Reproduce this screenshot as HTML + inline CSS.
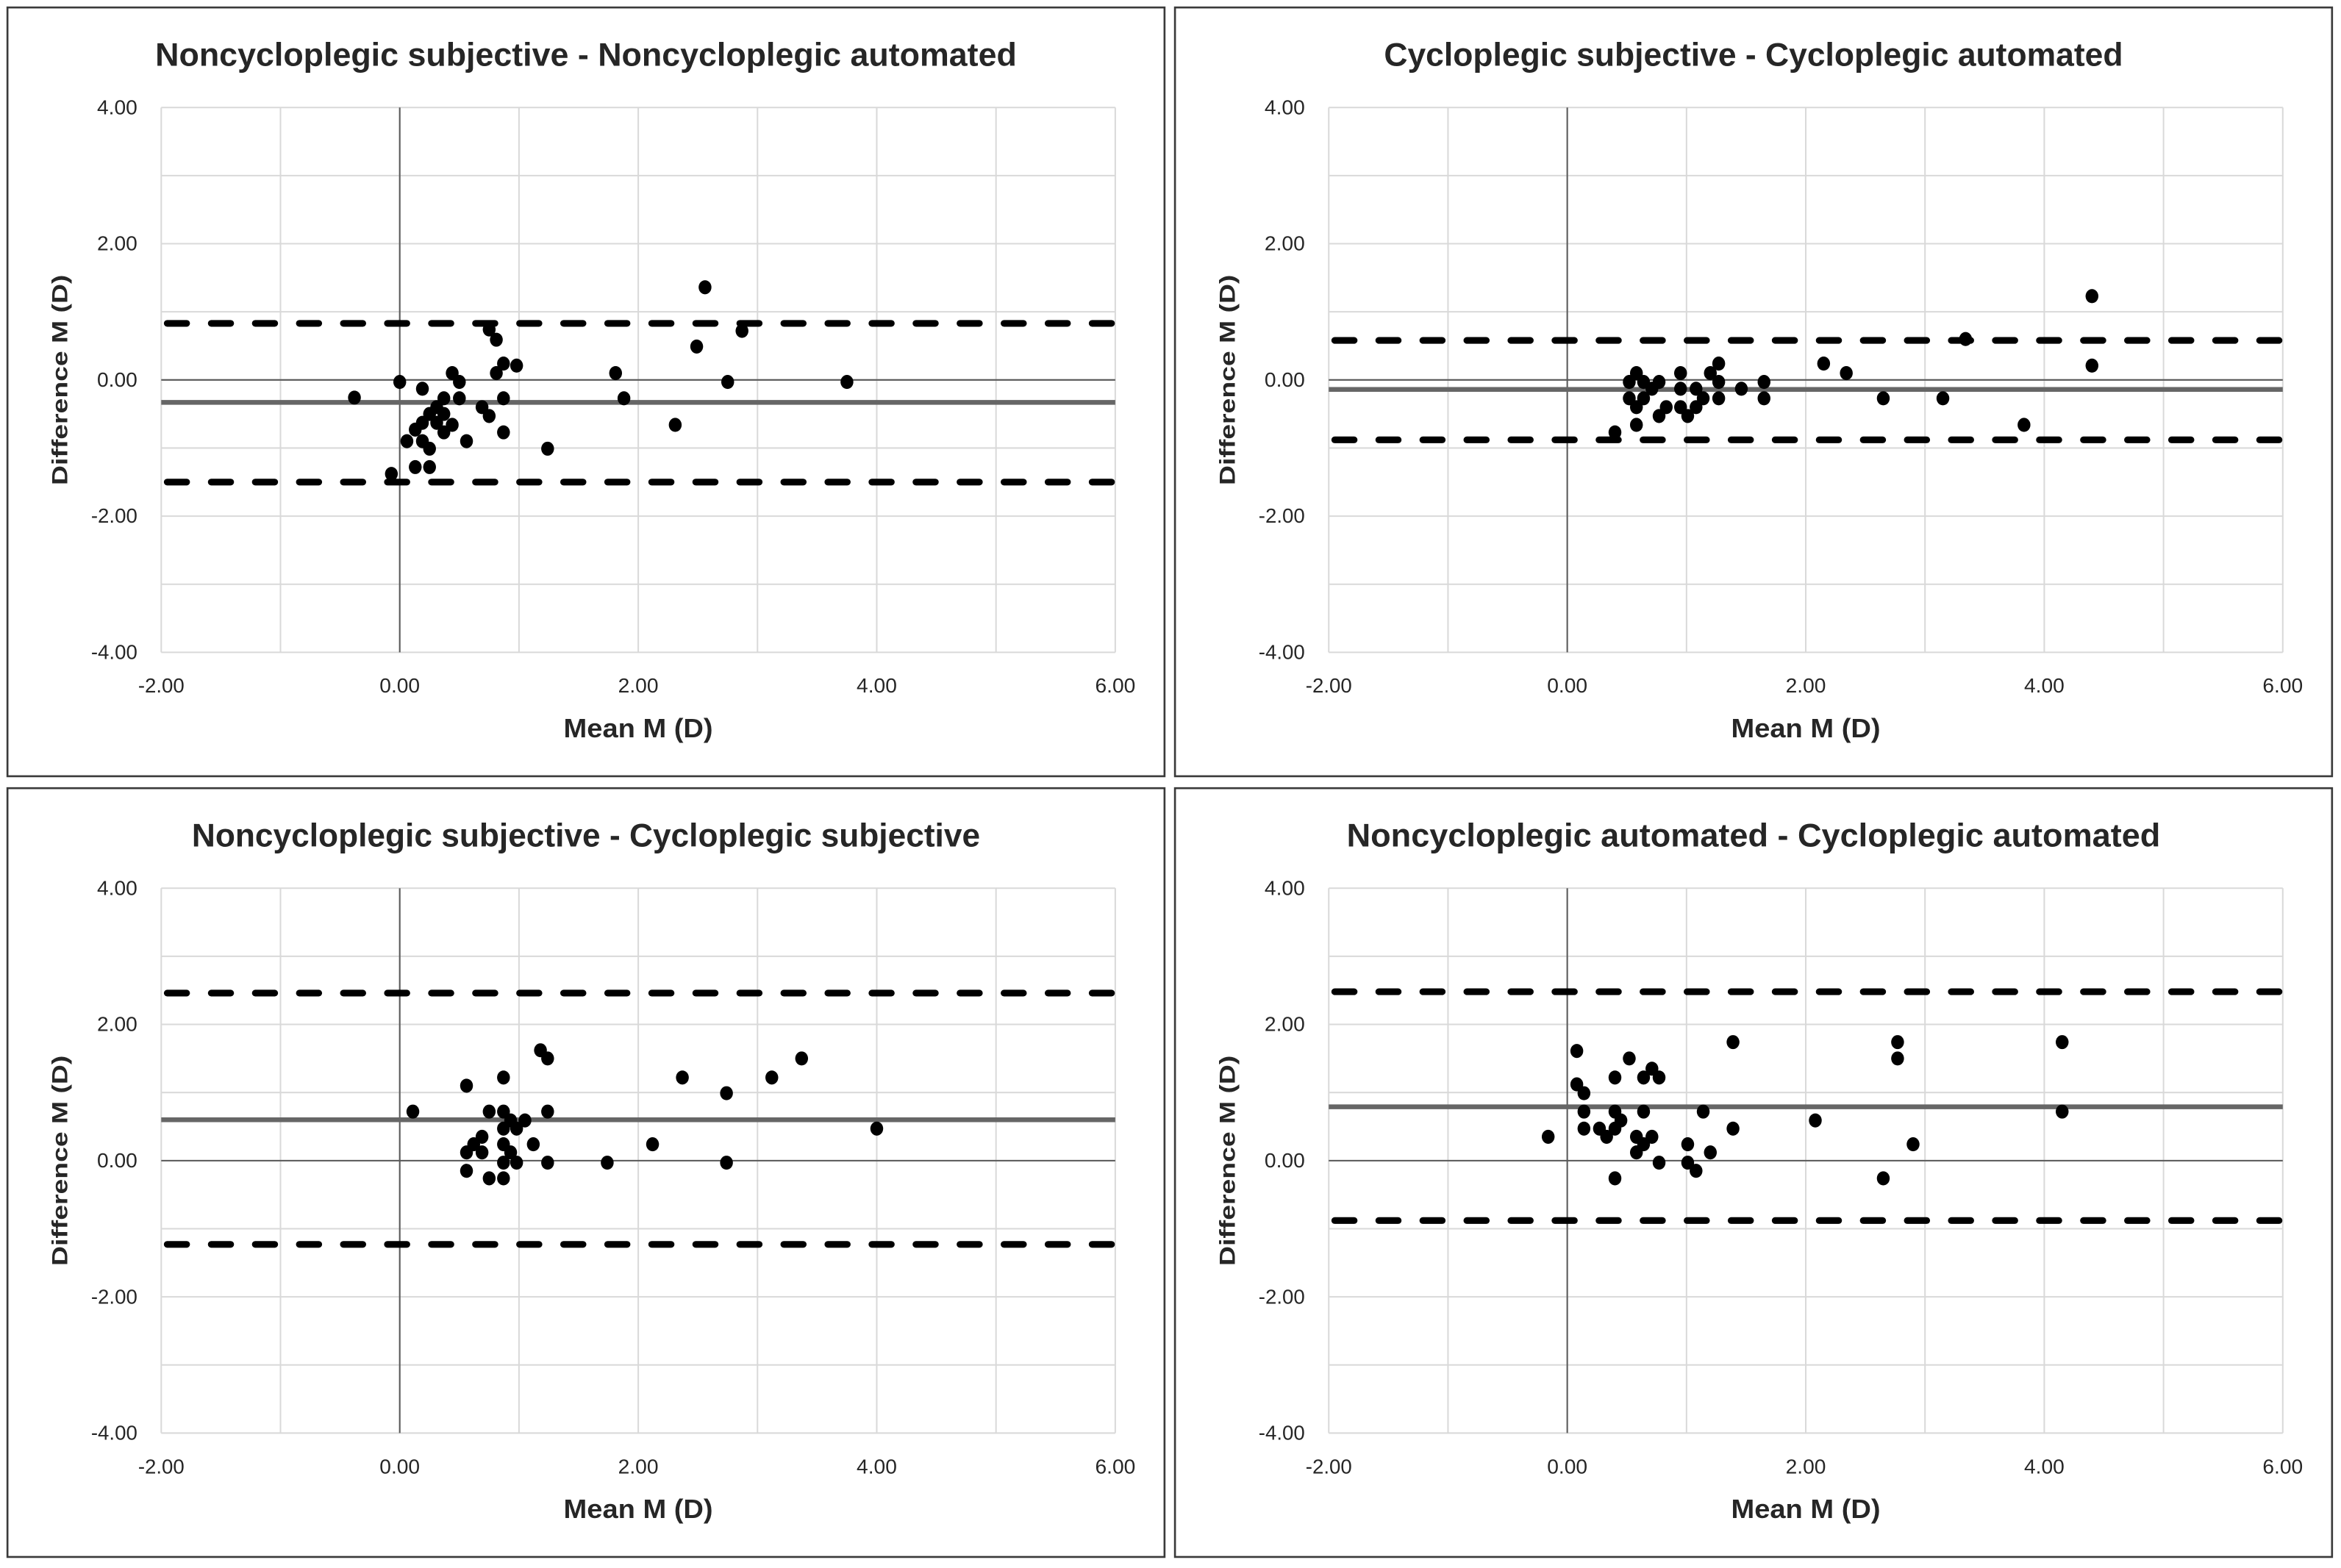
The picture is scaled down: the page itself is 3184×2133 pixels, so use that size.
<!DOCTYPE html>
<html><head><meta charset="utf-8">
<style>
html,body{margin:0;padding:0;background:#fff;}
svg{display:block;}
text{font-family:"Liberation Sans Narrow","Liberation Sans",sans-serif;fill:#262626;}
</style></head>
<body>
<svg id="chart" width="3184" height="2133" viewBox="0 0 1568 1050.4" preserveAspectRatio="none" xmlns="http://www.w3.org/2000/svg"></svg>
<script>
// Panel 1: Noncycloplegic subjective - Noncycloplegic automated
const p1Title = "Noncycloplegic subjective - Noncycloplegic automated";
const p1X = [-0.38,0,0.19,0.44,0.5,0.37,0.5,0.31,0.25,0.13,0.06,0.19,0.25,0.13,0.25,-0.07,0.37,0.44,0.31,0.37,0.56,0.19,0.69,0.75,0.87,0.87,0.81,0.87,0.98,0.75,0.81,1.24,1.81,1.88,2.31,2.49,2.56,2.75,2.87,3.75];
const p1Y = [-0.26,-0.03,-0.13,0.10,-0.03,-0.27,-0.27,-0.40,-0.5,-0.73,-0.9,-0.9,-1.01,-1.28,-1.28,-1.38,-0.5,-0.66,-0.63,-0.77,-0.9,-0.63,-0.4,-0.53,-0.77,-0.27,0.10,0.24,0.21,0.74,0.59,-1.01,0.10,-0.27,-0.66,0.49,1.36,-0.03,0.72,-0.03];
const p1Stats = [-0.33, 0.83, -1.50];
// Panel 2: Cycloplegic subjective - Cycloplegic automated
const p2Title = "Cycloplegic subjective - Cycloplegic automated";
const p2X = [0.40,0.52,0.52,0.58,0.58,0.58,0.64,0.64,0.71,0.77,0.77,0.83,0.95,0.95,0.95,1.01,1.08,1.08,1.14,1.20,1.27,1.27,1.27,1.46,1.65,1.65,2.15,2.34,2.65,3.15,3.34,3.83,4.40,4.40];
const p2Y = [-0.77,-0.03,-0.27,0.10,-0.40,-0.66,-0.03,-0.27,-0.13,-0.03,-0.53,-0.40,0.10,-0.13,-0.40,-0.53,-0.13,-0.40,-0.27,0.10,0.24,-0.03,-0.27,-0.13,-0.03,-0.27,0.24,0.10,-0.27,-0.27,0.60,-0.66,1.23,0.21];
const p2Stats = [-0.14, 0.58, -0.88];
// Panel 3: Noncycloplegic subjective - Cycloplegic subjective
const p3Title = "Noncycloplegic subjective - Cycloplegic subjective";
const p3X = [0.11,0.56,0.56,0.56,0.62,0.69,0.69,0.75,0.75,0.87,0.87,0.87,0.87,0.87,0.87,0.93,0.93,0.98,0.98,1.05,1.12,1.18,1.24,1.24,1.24,1.74,2.12,2.37,2.74,2.74,3.12,3.37,4.0];
const p3Y = [0.72,1.10,0.12,-0.15,0.24,0.35,0.12,0.72,-0.26,1.22,0.72,0.47,0.24,-0.03,-0.26,0.12,0.59,0.47,-0.03,0.59,0.24,1.62,1.5,0.72,-0.03,-0.03,0.24,1.22,0.99,-0.03,1.22,1.5,0.47];
const p3Stats = [0.60, 2.46, -1.23];
// Panel 4: Noncycloplegic automated - Cycloplegic automated
const p4Title = "Noncycloplegic automated - Cycloplegic automated";
const p4X = [-0.16,0.08,0.08,0.14,0.14,0.14,0.27,0.33,0.40,0.40,0.40,0.45,0.40,0.52,0.58,0.58,0.64,0.64,0.64,0.71,0.71,0.77,0.77,1.01,1.01,1.08,1.14,1.20,1.39,1.39,2.08,2.65,2.77,2.77,2.90,4.15,4.15];
const p4Y = [0.35,1.61,1.12,0.99,0.72,0.47,0.47,0.35,1.22,0.72,0.47,0.59,-0.26,1.5,0.35,0.12,1.22,0.72,0.24,1.35,0.35,1.22,-0.03,0.24,-0.03,-0.15,0.72,0.12,1.74,0.47,0.59,-0.26,1.74,1.5,0.24,1.74,0.72];
const p4Stats = [0.79, 2.48, -0.88];

const xTicks = ["-2.00","0.00","2.00","4.00","6.00"];
const yTicks = ["4.00","2.00","0.00","-2.00","-4.00"];

const NS = "http://www.w3.org/2000/svg";
const svg = document.getElementById('chart');
function mk(tag, attrs, parent){
  const e = document.createElementNS(NS, tag);
  for (const k in attrs) e.setAttribute(k, attrs[k]);
  (parent||svg).appendChild(e);
  return e;
}
function panel(px, py, title, titleW, xs, ys, stats, idx){
  const g = mk('g', {});
  
  
  const fr = mk('rect', {x:px, y:py, width:775, height:515, fill:'#fff', stroke:'#3a3a3a', 'stroke-width':1.3}, g);
  
  
  const L = px + 103, R = L + 639, T = py + 67, B = T + 365;
  const sx = v => L + (v + 2) / 8 * (R - L);
  const sy = v => T + (4 - v) / 8 * (B - T);
  for (let v = -2; v <= 6; v++) {
    const gl = mk('line', {x1:sx(v), x2:sx(v), y1:T, y2:B, stroke:'#d9d9d9', 'stroke-width':1}, g);
    
    
  }
  for (let v = -4; v <= 4; v++) {
    const gl = mk('line', {x1:L, x2:R, y1:sy(v), y2:sy(v), stroke:'#d9d9d9', 'stroke-width':1}, g);
    
    
  }
  const za = mk('line', {x1:sx(0), x2:sx(0), y1:T, y2:B, stroke:'#595959', 'stroke-width':1}, g);
  
  
  const zb = mk('line', {x1:L, x2:R, y1:sy(0), y2:sy(0), stroke:'#595959', 'stroke-width':1}, g);
  
  
  const ml = mk('line', {x1:L, x2:R, y1:sy(stats[0]), y2:sy(stats[0]), stroke:'#666', 'stroke-width':3.2}, g);
  
  
  [stats[1], stats[2]].forEach((v, i) => {
    const dl = mk('line', {x1:L+4, x2:R, y1:sy(v), y2:sy(v), stroke:'#000', 'stroke-width':4.5, 'stroke-dasharray':'13 16.5', 'stroke-linecap':'round'}, g);
    
    
  });
  xs.forEach((x, i) => {
    const c = mk('ellipse', {cx:sx(x), cy:sy(ys[i]), rx:4.3, ry:4.7, fill:'#000'}, g);
    
    
  });
  xTicks.forEach((t) => {
    const tx = mk('text', {x:sx(parseFloat(t)), y:B + 27, 'text-anchor':'middle', 'font-size':13.5, textLength:t.length > 4 ? 31 : 27, lengthAdjust:'spacingAndGlyphs'}, g);
    tx.textContent = t;
    
    
  });
  yTicks.forEach((t) => {
    const tx = mk('text', {x:L - 16, y:sy(parseFloat(t)) + 4.5, 'text-anchor':'end', 'font-size':13.5, textLength:t.length > 4 ? 31 : 27, lengthAdjust:'spacingAndGlyphs'}, g);
    tx.textContent = t;
    
    
  });
  const tt = mk('text', {x:px + 387.5, y:py + 39, 'text-anchor':'middle', 'font-size':22, 'font-weight':'bold', textLength:titleW, lengthAdjust:'spacingAndGlyphs'}, g);
  tt.textContent = title;
  
  
  const xt = mk('text', {x:(L + R) / 2, y:B + 57, 'text-anchor':'middle', 'font-size':18, 'font-weight':'bold', textLength:100, lengthAdjust:'spacingAndGlyphs'}, g);
  xt.textContent = "Mean M (D)";
  
  
  const yc = (T + B) / 2;
  const yt = mk('text', {x:0, y:0, 'text-anchor':'middle', 'font-size':14.5, 'font-weight':'bold', transform:'translate(' + (px + 40) + ',' + yc + ') rotate(-90)', textLength:141, lengthAdjust:'spacingAndGlyphs', style:'font-family:"Liberation Sans",sans-serif'}, g);
  yt.textContent = "Difference M (D)";
  
  
}
panel(5, 5, p1Title, 577, p1X, p1Y, p1Stats, 'noncyc-subj-vs-auto');
panel(787, 5, p2Title, 495, p2X, p2Y, p2Stats, 'cyc-subj-vs-auto');
panel(5, 528, p3Title, 528, p3X, p3Y, p3Stats, 'noncyc-vs-cyc-subj');
panel(787, 528, p4Title, 545, p4X, p4Y, p4Stats, 'noncyc-vs-cyc-auto');
</script>
</body></html>
